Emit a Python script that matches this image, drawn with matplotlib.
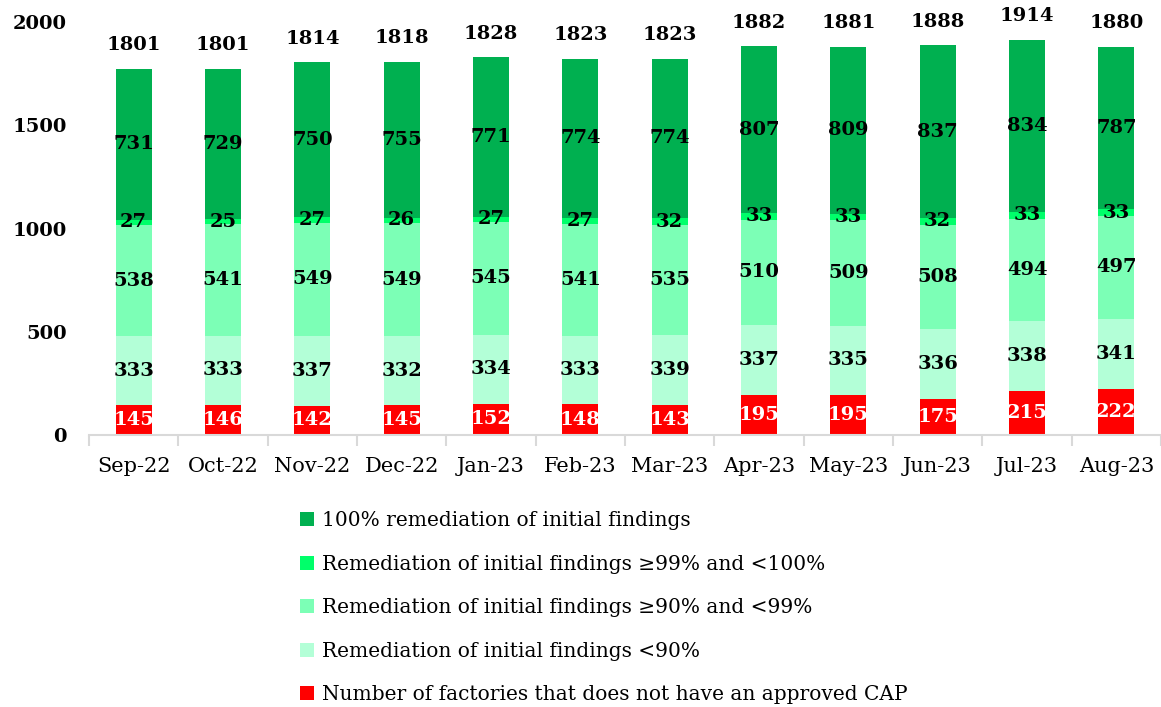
import matplotlib.pyplot as plt
from matplotlib.patches import Patch

plt.rcParams["font.family"] = "DejaVu Serif"

months = ["Sep-22", "Oct-22", "Nov-22", "Dec-22", "Jan-23", "Feb-23",
          "Mar-23", "Apr-23", "May-23", "Jun-23", "Jul-23", "Aug-23"]
no_cap = [145, 146, 142, 145, 152, 148, 143, 195, 195, 175, 215, 222]
below_90 = [333, 333, 337, 332, 334, 333, 339, 337, 335, 336, 338, 341]
from_90_to_99 = [538, 541, 549, 549, 545, 541, 535, 510, 509, 508, 494, 497]
from_99_to_100 = [27, 25, 27, 26, 27, 27, 32, 33, 33, 32, 33, 33]
full = [731, 729, 750, 755, 771, 774, 774, 807, 809, 837, 834, 787]
totals = [1801, 1801, 1814, 1818, 1828, 1823, 1823, 1882, 1881, 1888, 1914, 1880]

series = [
    (no_cap, "#FF0000", "white", "Number of factories that does not have an approved CAP"),
    (below_90, "#B3FFD7", "black", "Remediation of initial findings <90%"),
    (from_90_to_99, "#7CFFB6", "black", "Remediation of initial findings \u226590% and <99%"),
    (from_99_to_100, "#00FF6A", "black", "Remediation of initial findings \u226599% and <100%"),
    (full, "#00B050", "black", "100% remediation of initial findings"),
]

fig = plt.figure(figsize=(11.61, 7.07), dpi=100)
ax = fig.add_axes([89 / 1161, 1 - 435 / 707, 1 - 89 / 1161, (435 - 22) / 707])

x = list(range(len(months)))
bottom = [0] * len(months)
for vals, color, tcolor, label in series:
    bars = ax.bar(x, vals, width=0.4, bottom=bottom, color=color, linewidth=0)
    ax.bar_label(bars, labels=[str(v) for v in vals], label_type="center",
                 color=tcolor, fontsize=14, fontweight="bold")
    bottom = [b + v for b, v in zip(bottom, vals)]

for xi, top, tot in zip(x, bottom, totals):
    ax.annotate(str(tot), (xi, top), xytext=(0, 17), textcoords="offset points",
                ha="center", va="center", fontsize=14, fontweight="bold")

ax.set_xlim(-0.5, len(months) - 0.5)
ax.set_ylim(0, 2000)
ax.set_yticks([0, 500, 1000, 1500, 2000])
ax.set_xticks(x)
ax.set_xticklabels(months, fontsize=15)
ax.set_xticks([i + 0.5 for i in range(-1, len(months))], minor=True)
ax.tick_params(axis="x", which="major", length=0, pad=16)
ax.tick_params(axis="x", which="minor", length=8, color="#d9d9d9", width=1.5)
ax.tick_params(axis="y", length=0, pad=16, labelsize=14)
for lbl in ax.get_yticklabels():
    lbl.set_fontweight("bold")

for s in ["top", "right", "left"]:
    ax.spines[s].set_visible(False)
ax.spines["bottom"].set_color("#d9d9d9")
ax.spines["bottom"].set_linewidth(1.5)

handles = [Patch(facecolor=c, label=l) for _, c, _, l in series[::-1]]
fig.legend(handles=handles, loc="upper left", bbox_to_anchor=(282 / 1161, 1 - 493 / 707),
           frameon=False, fontsize=14.5, handlelength=0.7, handleheight=0.7,
           handletextpad=0.4, labelspacing=1.22)

fig.savefig("out.png", dpi=100, facecolor="white")
